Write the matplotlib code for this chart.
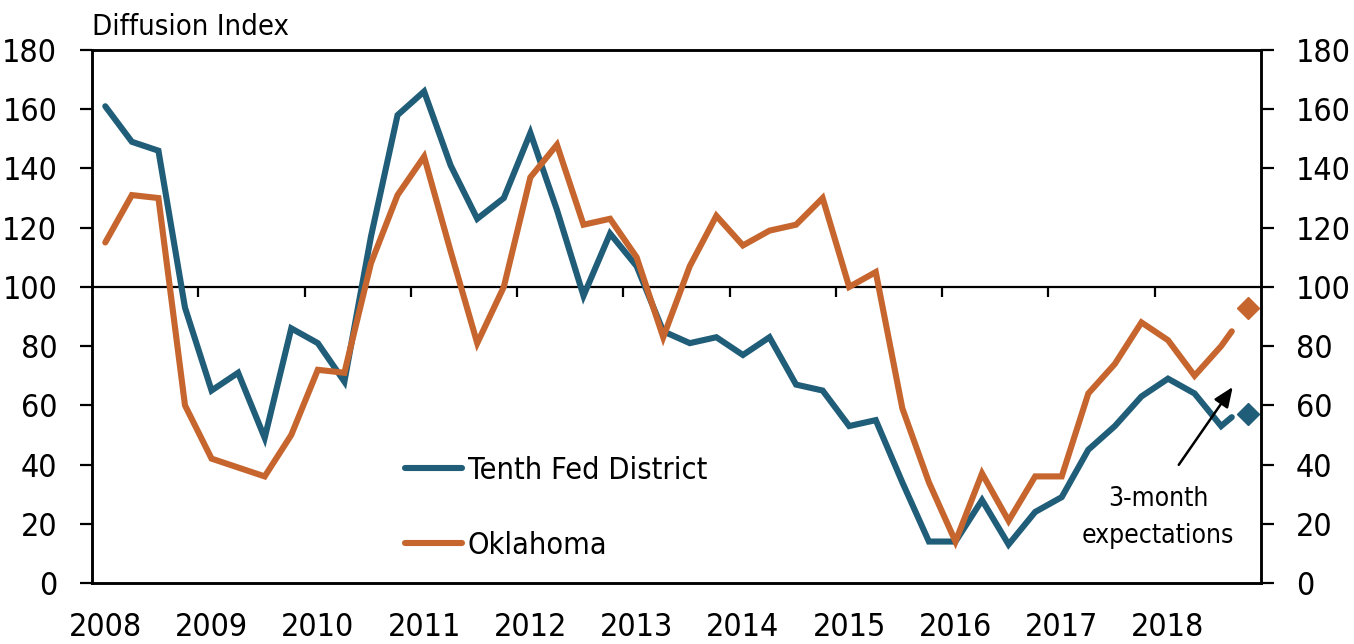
import numpy as np
import matplotlib
matplotlib.use("Agg")
import matplotlib.pyplot as plt
from matplotlib import font_manager

# pick a narrow/condensed sans if one is installed
chosen = None
pref = ['narrow', 'condensed']
for f in font_manager.fontManager.ttflist:
    fn = f.fname.lower()
    if any(p in fn for p in pref) and f.style == 'normal' and f.weight in (400, 'normal', 'regular') \
            and 'mono' not in fn and 'serif' not in f.name.lower() and 'bold' not in fn and 'light' not in fn \
            and 'semi' not in fn and 'extra' not in fn:
        chosen = f
        break
if chosen is not None:
    plt.rcParams['font.family'] = [chosen.name, 'DejaVu Sans']
    plt.rcParams['font.stretch'] = chosen.stretch
    FS_TICK, FS_LEG, FS_TITLE, FS_ANN = 23, 22, 21, 19
else:
    plt.rcParams['font.family'] = ['Liberation Sans', 'DejaVu Sans']
    FS_TICK, FS_LEG, FS_TITLE, FS_ANN = 21, 21, 19, 18

# ---- data (quarterly, 2008Q1 .. 2018Q3, plus latest reading) ----
quarters = [f"{y}Q{q}" for y in range(2008, 2019) for q in range(1, 5)][:43]
tenth = [161, 149, 146, 93, 65, 71, 49, 86, 81, 68, 117, 158, 166, 141, 123, 130,
         152, 126, 97, 118, 107, 85, 81, 83, 77, 83, 67, 65, 53, 55, 34, 14,
         14, 28, 13, 24, 29, 45, 53, 63, 69, 64, 53]
oklahoma = [115, 131, 130, 60, 42, 39, 36, 50, 72, 71, 108, 131, 144, 112, 81, 100,
            137, 148, 121, 123, 110, 83, 107, 124, 114, 119, 121, 130, 100, 105, 59, 34,
            14, 37, 21, 36, 36, 64, 74, 88, 82, 70, 80]
latest_date = 2018.725          # latest monthly reading (decimal year)
tenth_latest = 56
oklahoma_latest = 85
expect_date = 2018.875          # 2018Q4
tenth_expect = 57
oklahoma_expect = 93

years = list(range(2008, 2019))
yticks = [0, 20, 40, 60, 80, 100, 120, 140, 160, 180]

BLUE = '#1f5d78'
ORANGE = '#c6662e'

def qdate(q):
    y, n = q.split('Q')
    return int(y) + (int(n) - 0.5) / 4

xq = [qdate(q) for q in quarters]
x_line = xq + [latest_date]
t_line = tenth + [tenth_latest]
o_line = oklahoma + [oklahoma_latest]

fig = plt.figure(figsize=(13.54, 6.44), dpi=100)
ax = fig.add_axes([92/1354, 1-583/644, (1261-92)/1354, (583-50)/644])

lw = 4.4
ax.plot(x_line, t_line, color=BLUE, lw=lw, solid_capstyle='round', solid_joinstyle='miter',
        label='Tenth Fed District', zorder=3)
ax.plot(x_line, o_line, color=ORANGE, lw=lw, solid_capstyle='round', solid_joinstyle='miter',
        label='Oklahoma', zorder=3)
ax.plot([expect_date], [oklahoma_expect], marker='D', color=ORANGE, ms=11, ls='none', zorder=4)
ax.plot([expect_date], [tenth_expect], marker='D', color=BLUE, ms=11, ls='none', zorder=4)

ax.set_xlim(years[0], years[-1] + 1)
ax.set_ylim(yticks[0], yticks[-1])

# reference line at 100 with year-boundary ticks
ax.axhline(100, color='black', lw=1.6, zorder=2)
bounds = years + [years[-1] + 1]
ax.vlines(bounds[1:-1], 100 - 3.4, 100, color='black', lw=1.6, zorder=2)

# x labels at first quarter of each year
ax.set_xticks([y + 0.125 for y in years])
ax.set_xticklabels([str(y) for y in years])
ax.tick_params(axis='x', length=0, pad=21, labelsize=FS_TICK)

ax.set_yticks(yticks)
ax.tick_params(axis='y', direction='out', length=9, width=1.6, pad=16, labelsize=FS_TICK)
for s in ax.spines.values():
    s.set_linewidth(1.8)

ax2 = ax.twinx()
ax2.set_ylim(yticks[0], yticks[-1])
ax2.set_yticks(yticks)
ax2.tick_params(axis='y', direction='out', length=9, width=1.6, pad=16, labelsize=FS_TICK)
for s in ax2.spines.values():
    s.set_linewidth(1.8)

fig.text(92/1354, 1-35/644, 'Diffusion Index', fontsize=FS_TITLE, ha='left', va='baseline')

leg = ax.legend(loc='upper left', bbox_to_anchor=(405/1354, 1-456/644),
                bbox_transform=fig.transFigure, frameon=False, fontsize=FS_LEG,
                handlelength=1.85, handletextpad=0.2, labelspacing=1.5,
                borderpad=0, borderaxespad=0)

ax.annotate('', xy=(2018.734, 66.2), xytext=(2018.226, 39.9),
            arrowprops=dict(arrowstyle='-|>,head_length=1.2,head_width=0.5',
                            color='black', lw=1.8, shrinkA=0, shrinkB=0))
ax.text(2018.03, 22.0, '3-month\nexpectations', fontsize=FS_ANN, ha='center', va='center',
        linespacing=1.55)

fig.savefig('out.png', dpi=100)
